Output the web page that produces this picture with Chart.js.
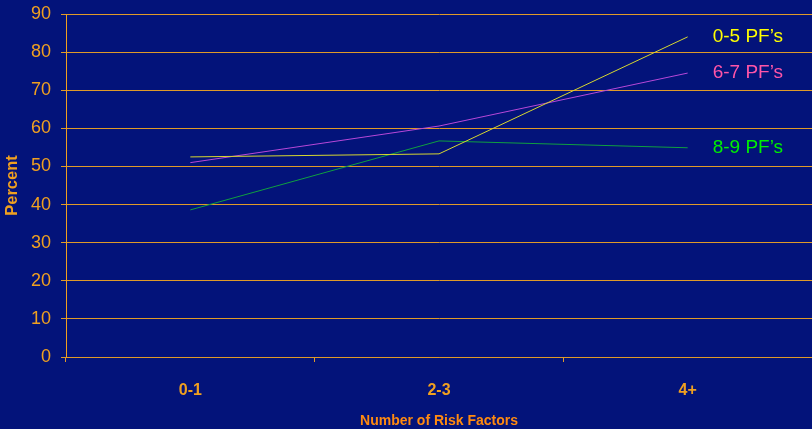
<!DOCTYPE html>
<html>
<head>
<meta charset="utf-8">
<script src="https://cdn.jsdelivr.net/npm/chart.js@4/dist/chart.umd.min.js"></script>
<style>
  html, body { margin: 0; padding: 0; background: #03137a; }
  #wrap { width: 812px; height: 429px; }
</style>
</head>
<body>
<div id="wrap"><canvas id="chart"></canvas></div>
<script>
// values
const categories = ['0-1', '2-3', '4+'];
const seriesNames = ['0-5 PF\u2019s', '6-7 PF\u2019s', '8-9 PF\u2019s'];
const pf05 = [52.5, 53.3, 84];
const pf67 = [51, 60.6, 74.5];
const pf89 = [38.6, 56.7, 54.9];
const lineColors = ['#d8d830', '#b848d8', '#10a040'];
const labelColors = ['#ffff00', '#ff55a8', '#00f000'];

const orange = '#f0a020';
const gridOrange = '#e09a28';

// draws the series name to the right of each line's last point
const endLabels = {
  id: 'endLabels',
  afterDatasetsDraw(chart) {
    const ctx = chart.ctx;
    ctx.save();
    ctx.font = '19px "Liberation Sans", Arial, sans-serif';
    ctx.textAlign = 'left';
    ctx.textBaseline = 'middle';
    chart.data.datasets.forEach((ds, i) => {
      const pts = chart.getDatasetMeta(i).data;
      const last = pts[pts.length - 1];
      ctx.fillStyle = labelColors[i];
      ctx.fillText(ds.label, last.x + 25, last.y);
    });
    ctx.restore();
  }
};

const datasets = [pf05, pf67, pf89].map((vals, i) => ({
  label: seriesNames[i],
  data: vals,
  borderColor: lineColors[i],
  borderWidth: 1,
  pointRadius: 0,
  tension: 0,
  fill: false
}));

new Chart(document.getElementById('chart'), {
  type: 'line',
  data: { labels: categories, datasets: datasets },
  plugins: [endLabels],
  options: {
    responsive: true,
    maintainAspectRatio: false,
    animation: false,
    layout: { padding: { top: 14, right: 0, left: 0, bottom: 0 } },
    plugins: {
      legend: { display: false },
      tooltip: { enabled: false }
    },
    scales: {
      x: {
        offset: true,
        afterFit: (s) => { s.height = 72; s.paddingLeft = 0; s.paddingRight = 0; },
        grid: { offset: true, drawOnChartArea: false, tickLength: 5, color: gridOrange },
        border: { color: gridOrange },
        ticks: {
          color: orange,
          padding: 19,
          font: { family: '"Liberation Sans", Arial, sans-serif', size: 16, weight: 'bold' }
        },
        title: {
          display: true,
          text: 'Number of Risk Factors',
          color: '#ff8a10',
          padding: { top: 0, bottom: -1 },
          font: { family: '"Liberation Sans", Arial, sans-serif', size: 14, weight: 'bold' }
        }
      },
      y: {
        min: 0,
        max: 90,
        afterFit: (s) => { s.width = 66; s.paddingTop = 0; s.paddingBottom = 0; },
        grid: { color: gridOrange, tickLength: 5 },
        border: { color: orange },
        ticks: {
          stepSize: 10,
          color: orange,
          padding: 10,
          font: { family: '"Liberation Sans", Arial, sans-serif', size: 18 }
        },
        title: {
          display: true,
          text: 'Percent',
          color: orange,
          padding: { top: 3, bottom: 0 },
          font: { family: '"Liberation Sans", Arial, sans-serif', size: 16.5, weight: 'bold' }
        }
      }
    }
  }
});
</script>
</body>
</html>
